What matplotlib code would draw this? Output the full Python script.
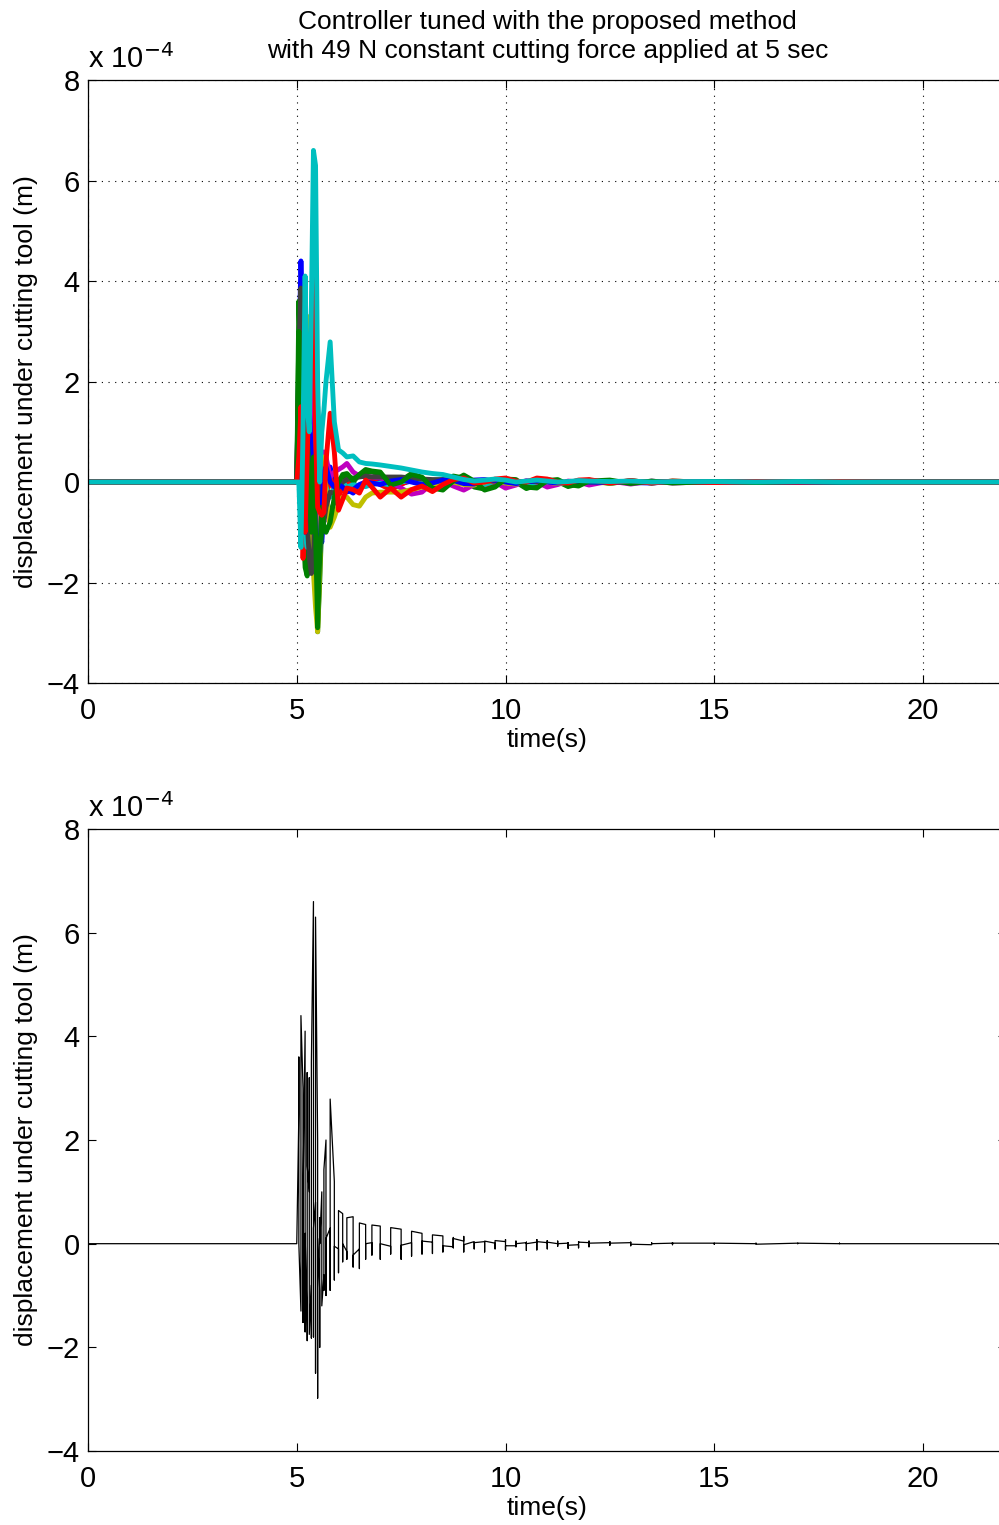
import numpy as np
import matplotlib
matplotlib.use("Agg")
import matplotlib.pyplot as plt

plt.rcParams['font.family'] = ['Liberation Sans', 'DejaVu Sans']

# time grid (s)
t = [0,
     5.00, 5.05, 5.10, 5.15, 5.20, 5.25, 5.30, 5.35, 5.40, 5.45, 5.50, 5.55, 5.60, 5.65, 5.70,
     5.80, 5.90, 6.00, 6.10, 6.20, 6.35, 6.50, 6.65, 6.80,
     7.00, 7.25, 7.50, 7.75, 8.00, 8.25, 8.50, 8.75, 9.00, 9.25, 9.50, 9.75, 10.00,
     10.25, 10.50, 10.75, 11.00, 11.25, 11.50, 11.75, 12.00,
     12.5, 13.0, 13.5, 14.0, 15, 16, 17, 18, 19, 20, 21, 22]

# displacement (x 1e-4 m), one list per tuning run
b1 = [0,
      0, 2.5, 4.4, 3.0, 0.2, -1.6, -1.75, -0.8, 0.3, 0.8, 0.1, -0.9, -1.2, -0.6, 0.1,
      0.3, -0.05, -0.1, 0.0, -0.15, -0.22, -0.1, 0.0, 0.02,
      0.0, -0.05, -0.03, 0.02, 0.05, 0.03, -0.04, -0.06, -0.02, 0.04, 0.05, 0.01, -0.04,
      -0.04, 0.0, 0.03, 0.03, 0.0, -0.03, -0.02, 0.01,
      0.02, -0.01, -0.02, 0.01, 0.01, -0.01, 0.01, 0.0, 0.0, 0.0, 0.0, 0.0]
g1 = [0,
      0, 3.6, 2.0, -0.8, -1.7, -1.87, -0.5, 1.2, 2.1, -0.5, -2.98, -2.0, -0.8, -0.3, -0.5,
      -0.6, -0.4, -0.1, 0.05, 0.1, 0.0, 0.15, 0.2, 0.2,
      0.15, -0.05, 0.03, 0.17, 0.08, -0.1, -0.05, 0.12, 0.08, -0.1, -0.14, -0.02, 0.06,
      0.0, -0.13, -0.06, 0.05, 0.01, -0.09, -0.04, 0.04,
      -0.03, 0.03, -0.02, 0.02, -0.01, 0.01, 0.0, 0.0, 0.0, 0.0, 0.0, 0.0]
r1 = [0,
      0, 2.1, 0.5, -1.52, -0.3, 1.5, 3.2, 1.8, 0.0, -1.0, -0.4, 0.3, -0.2, -0.5, -0.3,
      0.1, -0.2, -0.3, -0.1, 0.0, -0.12, -0.15, 0.0, 0.05,
      -0.05, -0.15, -0.05, 0.06, 0.02, -0.1, -0.06, 0.05, 0.06, -0.03, -0.06, 0.02, 0.05,
      0.0, -0.04, 0.01, 0.04, 0.0, -0.03, 0.01, 0.03,
      -0.02, 0.02, -0.01, 0.01, 0.0, 0.01, 0.0, 0.0, 0.0, 0.0, 0.0, 0.0]
c1 = [0,
      0, 1.0, 3.0, 1.5, -1.0, -1.3, 0.5, 2.5, 1.5, -0.5, -1.0, -0.2, 0.5, 0.3, -0.1,
      -0.3, -0.1, 0.05, 0.0, -0.1, -0.05, -0.08, -0.09, -0.05,
      -0.02, -0.06, 0.0, 0.04, -0.02, -0.12, -0.05, 0.04, 0.05, 0.0, -0.05, 0.02, 0.05,
      0.0, -0.06, 0.0, 0.04, 0.02, -0.03, 0.0, 0.03,
      -0.02, 0.02, -0.01, 0.01, 0.0, 0.01, 0.0, 0.0, 0.0, 0.0, 0.0, 0.0]
m1 = [0,
      0, 0.5, 1.5, 2.5, 1.0, -0.8, -1.2, 3.2, 2.0, -0.5, -1.5, -1.0, 0.0, 0.6, 0.5,
      0.1, 0.2, 0.25, 0.3, 0.37, 0.2, 0.12, 0.1, 0.1,
      0.08, 0.0, -0.12, -0.24, -0.2, -0.02, 0.05, -0.08, -0.16, -0.05, 0.04, 0.0, -0.12,
      -0.06, 0.03, 0.0, -0.1, -0.05, 0.02, 0.0, -0.06,
      0.02, -0.04, 0.02, -0.02, 0.01, -0.01, 0.01, 0.0, 0.0, 0.0, 0.0, 0.0]
y1 = [0,
      0, 1.0, 2.0, 0.5, 2.5, 3.3, 1.0, -1.0, -1.8, -2.5, -2.98, -1.8, 0.3, 0.5, -0.2,
      -0.9, -0.7, -0.45, -0.3, -0.3, -0.45, -0.48, -0.3, -0.22,
      -0.2, -0.2, -0.2, -0.15, -0.1, -0.08, -0.02, 0.0, -0.05, -0.06, 0.0, 0.03, -0.02,
      -0.04, 0.0, 0.02, 0.0, -0.03, 0.0, 0.02, 0.0,
      -0.02, 0.01, -0.01, 0.01, 0.0, 0.0, 0.0, 0.0, 0.0, 0.0, 0.0, 0.0]
k1 = [0,
      0, 2.5, 3.86, 2.0, 0.0, -0.8, -1.5, -1.82, -1.6, 0.5, 1.5, 0.5, -0.5, -0.8, -0.5,
      -0.2, -0.22, -0.1, 0.0, 0.05, 0.08, 0.1, 0.12, 0.1,
      0.1, 0.1, 0.1, 0.08, 0.06, 0.05, 0.05, 0.04, 0.03, 0.03, 0.02, 0.02, 0.02,
      0.01, 0.01, 0.01, 0.01, 0.0, 0.0, 0.0, 0.0,
      0.0, 0.0, 0.0, 0.0, 0.0, 0.0, 0.0, 0.0, 0.0, 0.0, 0.0, 0.0]
b2 = [0,
      0, 1.5, 0.8, -0.5, -1.0, 0.5, 1.5, 0.5, 0.0, -1.0, -1.5, -1.4, -0.5, 0.2, 0.3,
      0.0, -0.1, -0.05, -0.1, -0.2, -0.15, -0.05, 0.0, -0.02,
      -0.05, 0.02, 0.05, 0.0, -0.05, -0.02, 0.04, 0.03, -0.03, -0.04, 0.02, 0.04, 0.0,
      -0.03, 0.0, 0.03, 0.0, -0.02, 0.0, 0.02, 0.0,
      -0.01, 0.01, -0.01, 0.01, 0.0, 0.0, 0.0, 0.0, 0.0, 0.0, 0.0, 0.0]
g2 = [0,
      0, 3.0, 1.5, -0.5, 0.5, 1.0, 0.0, -1.0, 0.5, -1.0, -2.9, -1.5, -0.5, -0.9, -1.0,
      -0.8, -0.3, 0.0, 0.15, 0.17, 0.04, 0.15, 0.25, 0.22,
      0.2, -0.06, 0.0, 0.15, 0.1, -0.12, -0.16, 0.02, 0.14, 0.02, -0.16, -0.1, 0.06,
      0.05, -0.1, -0.12, 0.03, 0.05, -0.05, -0.08, 0.02,
      0.04, -0.03, 0.02, -0.02, 0.01, -0.01, 0.01, 0.0, 0.0, 0.0, 0.0, 0.0]
r2 = [0,
      0, 0.5, 1.5, 0.0, -1.0, 0.5, 2.0, 3.0, 5.0, 1.0, -0.5, -0.6, -0.66, -0.6, 0.4,
      1.37, 0.6, -0.56, -0.35, -0.12, -0.15, -0.22, 0.04, -0.1,
      -0.3, -0.12, -0.3, -0.15, -0.08, -0.19, -0.05, 0.05, 0.08, -0.02, 0.0, 0.06, 0.08,
      0.02, 0.0, 0.08, 0.06, 0.0, -0.02, 0.04, 0.05,
      -0.02, 0.03, -0.02, 0.02, -0.01, 0.01, 0.0, 0.01, 0.0, 0.0, 0.0, 0.0]
c2 = [0,
      0, 0.0, -1.3, 1.0, 4.1, 1.5, 1.0, 3.5, 6.6, 6.3, 2.0, 0.0, 1.0, 1.43, 2.0,
      2.79, 1.2, 0.64, 0.58, 0.5, 0.52, 0.4, 0.37, 0.36,
      0.34, 0.31, 0.28, 0.24, 0.2, 0.17, 0.15, 0.1, 0.05, 0.02, 0.04, 0.06, 0.04,
      0.0, 0.02, 0.04, 0.02, 0.0, 0.01, 0.03, 0.02,
      0.01, 0.02, 0.0, 0.01, 0.01, 0.0, 0.01, 0.0, 0.0, 0.0, 0.0, 0.0]

runs = [b1, g1, r1, c1, m1, y1, k1, b2, g2, r2, c2]
colors = [(0, 0, 1), (0, 0.5, 0), (1, 0, 0), (0, 0.75, 0.75), (0.75, 0, 0.75),
          (0.75, 0.75, 0), (0.25, 0.25, 0.25)]

fig = plt.figure(figsize=(9.99, 15.25), dpi=100)
ax1 = fig.add_axes([0.0881, 0.5521, 0.9194, 0.3954])
ax2 = fig.add_axes([0.0881, 0.0485, 0.9194, 0.4079])

for i, y in enumerate(runs):
    ax1.plot(t, y, color=colors[i % 7], lw=3.5, solid_joinstyle='round')

# all runs together, step by step in time (up and down alternately)
Y = np.array(runs)
cols = [Y[:, j] if j % 2 == 0 else Y[::-1, j] for j in range(len(t))]
ax2.plot(np.repeat(t, len(runs)), np.concatenate(cols), color='k', lw=0.9)

for ax in (ax1, ax2):
    ax.set_xlim(0, 22)
    ax.set_ylim(-4, 8)
    ax.set_xticks([0, 5, 10, 15, 20])
    ax.set_yticks([-4, -2, 0, 2, 4, 6, 8])
    ax.set_yticklabels(['\u22124', '\u22122', '0', '2', '4', '6', '8'])
    ax.tick_params(direction='in', top=True, right=True, length=6, width=0.8,
                   labelsize=21, pad=6)
    ax.tick_params(axis='x', pad=10)
    ax.set_xlabel('time(s)', fontsize=19, labelpad=2)
    ax.set_ylabel('displacement under cutting tool (m)', fontsize=19, labelpad=6)
    ax.text(0, 1.01, 'x 10$^{\u22124}$', transform=ax.transAxes, fontsize=21,
            va='bottom', ha='left')
    for s in ax.spines.values():
        s.set_linewidth(0.9)

ax1.grid(True, color='k', linestyle=(0, (1, 5)), linewidth=0.8)
ax1.set_title('Controller tuned with the proposed method\n'
              'with 49 N constant cutting force applied at 5 sec', fontsize=19,
              pad=16, linespacing=1.25)

fig.savefig('out.png', dpi=100)
